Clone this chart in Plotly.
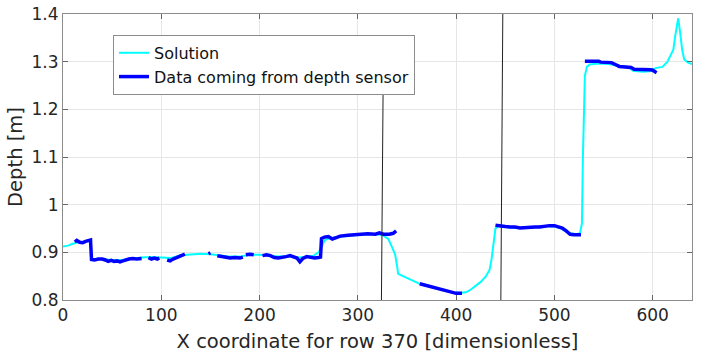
import plotly.graph_objects as go

# ---------------- data ----------------
sol_x = [0, 5, 10, 15, 20, 25, 28, 29, 40, 50, 60, 70, 80, 90, 100, 110, 120, 130, 140, 150,
         160, 170, 180, 190, 200, 210, 220, 230, 240, 250, 255, 260, 263, 266, 270, 280, 290,
         300, 310, 320, 326, 331, 335, 338, 340, 341, 346, 355, 363, 372, 380, 390, 397, 405,
         410, 415, 420, 425, 430, 434, 436, 438, 440, 443, 450, 460, 470, 480, 490, 500, 507,
         512, 517, 522, 526, 528, 529, 530, 531, 533, 536, 545, 555, 565, 575, 580, 590, 597,
         600, 604, 610, 615, 618, 621, 623, 626, 628, 630, 632, 636, 640]
sol_y = [0.912, 0.914, 0.918, 0.921, 0.922, 0.924, 0.922, 0.886, 0.886, 0.884, 0.884, 0.887,
         0.889, 0.890, 0.889, 0.888, 0.894, 0.896, 0.897, 0.896, 0.894, 0.891, 0.891, 0.895,
         0.895, 0.893, 0.891, 0.892, 0.889, 0.891, 0.893, 0.900, 0.910, 0.925, 0.929, 0.932,
         0.935, 0.937, 0.938, 0.938, 0.935, 0.928, 0.910, 0.895, 0.870, 0.855, 0.850, 0.842,
         0.834, 0.828, 0.824, 0.818, 0.815, 0.815, 0.816, 0.822, 0.830, 0.838, 0.849, 0.863,
         0.885, 0.915, 0.950, 0.955, 0.953, 0.951, 0.951, 0.952, 0.955, 0.954, 0.950, 0.943,
         0.940, 0.938, 0.940, 0.960, 1.100, 1.220, 1.270, 1.289, 1.294, 1.296, 1.295, 1.291,
         1.289, 1.281, 1.279, 1.280, 1.284, 1.287, 1.289, 1.300, 1.314, 1.325, 1.355, 1.391,
         1.360, 1.325, 1.305, 1.298, 1.295]

# sensor data (None = gaps)
sen_x = [12, 14, 17, 20, 23, 26, 28, 29, 32, 36, 40, 43, 46, 49, 52, 55, 58, 61, 64, 67, 71, 75, 80, None,
         87, 90, 93, 96, 98, None,
         106, 109, 112, 116, 120, 124, None,
         148, 150, None,
         157, 161, 165, 170, 175, 180, 183, None,
         186, 190, 194, None,
         203, 207, 211, 215, 219, 223, 227, 231, 235, 238, 241, 244, 248, 252, 256, 260, 262, 263,
         266, 270, 274, 278, 282, 290, 300, 310, 318, 322, 326, 332, 336, 339, None,
         363, 370, 376, 380, 385, 390, 395, 400, 406, None,
         440, 445, 450, 455, 460, 465, 470, 475, 480, 485, 490, 495, 500, 505, 508, 512, 516, 520, 527, None,
         531, 545, 547, 558, 562, 566, 578, 581, 598, 600, 604]
sen_y = [0.922, 0.925, 0.921, 0.920, 0.923, 0.926, 0.926, 0.885, 0.884, 0.886, 0.886, 0.884, 0.881,
         0.883, 0.881, 0.882, 0.880, 0.882, 0.885, 0.886, 0.887, 0.886, 0.887, None,
         0.889, 0.886, 0.888, 0.886, 0.888, None,
         0.884, 0.882, 0.886, 0.890, 0.894, 0.896, None,
         0.897, 0.899, None,
         0.893, 0.891, 0.889, 0.888, 0.889, 0.888, 0.890, None,
         0.895, 0.896, 0.895, None,
         0.893, 0.895, 0.893, 0.889, 0.888, 0.889, 0.891, 0.893, 0.889, 0.888, 0.880, 0.887, 0.891,
         0.889, 0.888, 0.889, 0.890, 0.929, 0.932, 0.933, 0.928, 0.931, 0.934, 0.936, 0.938, 0.939,
         0.938, 0.941, 0.938, 0.938, 0.940, 0.945, None,
         0.834, 0.830, 0.827, 0.825, 0.822, 0.818, 0.816, 0.814, 0.814, None,
         0.957, 0.955, 0.954, 0.953, 0.953, 0.951, 0.952, 0.953, 0.953, 0.953, 0.955, 0.956, 0.956,
         0.954, 0.951, 0.945, 0.938, 0.937, 0.937, None,
         1.301, 1.301, 1.299, 1.298, 1.294, 1.290, 1.288, 1.284, 1.283, 1.282, 1.277]

# thin near-vertical outlier lines
out_x = [324, 325.8, None, 445.5, 447.5]
out_y = [0.8, 1.266, None, 0.8, 1.4]

x_ticks = [0, 100, 200, 300, 400, 500, 600]
y_ticks = [0.8, 0.9, 1.0, 1.1, 1.2, 1.3, 1.4]
y_tick_text = ["0.8", "0.9", "1", "1.1", "1.2", "1.3", "1.4"]

# ---------------- figure ----------------
FONT = "DejaVu Sans"
TXT = "#262626"

fig = go.Figure()
fig.add_trace(go.Scatter(x=sol_x, y=sol_y, mode="lines", name="Solution",
                         line=dict(color="#00ffff", width=2)))
fig.add_trace(go.Scatter(x=sen_x, y=sen_y, mode="lines", name="Data coming from depth sensor",
                         line=dict(color="#0000ff", width=3.5), connectgaps=False))
fig.add_trace(go.Scatter(x=out_x, y=out_y, mode="lines", showlegend=False,
                         line=dict(color="#222222", width=1), connectgaps=False))

axis_common = dict(
    showline=True, linecolor="#8c8c8c", linewidth=1, mirror="ticks",
    ticks="inside", ticklen=5, tickcolor="#666666",
    showgrid=True, gridcolor="#e6e6e6", gridwidth=1, zeroline=False,
    tickfont=dict(family=FONT, size=17, color=TXT),
    automargin=False, ticklabeloverflow="allow",
)

fig.update_layout(
    width=702, height=359,
    margin=dict(l=63, r=10, t=14, b=59, autoexpand=False),
    paper_bgcolor="white", plot_bgcolor="white",
    font=dict(family=FONT, color=TXT),
    xaxis=dict(range=[0, 640], tickvals=x_ticks,
               title=dict(text="X coordinate for row 370 [dimensionless]",
                          font=dict(family=FONT, size=19.5, color=TXT), standoff=9),
               **axis_common),
    yaxis=dict(range=[0.8, 1.4], tickvals=y_ticks, ticktext=y_tick_text,
               title=dict(text="Depth [m]", font=dict(family=FONT, size=19.5, color=TXT), standoff=3),
               **axis_common),
    legend=dict(x=0.0795, y=0.927, xanchor="left", yanchor="top",
                bgcolor="white", bordercolor="#8c8c8c", borderwidth=1,
                font=dict(family=FONT, size=16, color="#111111"),
                itemwidth=30, tracegroupgap=0),
    showlegend=True,
)

# remove the default page margin so the 702x359 figure fills the window exactly
fig.write_html("out.html",
               config={"displayModeBar": False},
               post_script="document.body.style.margin='0';document.body.style.overflow='hidden';")
